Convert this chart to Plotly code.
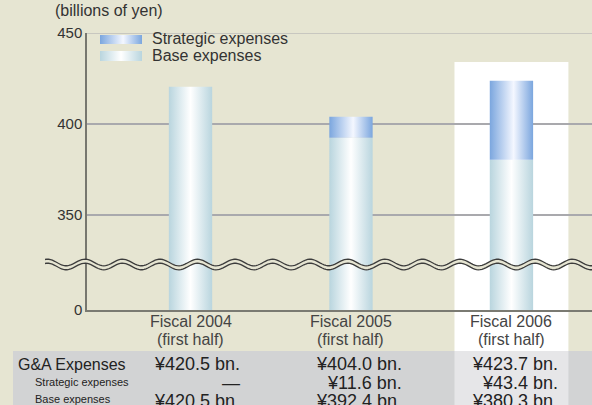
import numpy as np
import plotly.graph_objects as go

# 데이터
categories = ["Fiscal 2004", "Fiscal 2005", "Fiscal 2006"]
sub_labels = ["(first half)", "(first half)", "(first half)"]
strategic = [0.0, 11.6, 43.4]
base = [420.5, 392.4, 380.3]
total_text = ["¥420.5 bn.", "¥404.0 bn.", "¥423.7 bn."]
strategic_text = ["—", "¥11.6 bn.", "¥43.4 bn."]
base_text = ["¥420.5 bn.", "¥392.4 bn.", "¥380.3 bn."]
y_ticks = [350, 400, 450]
y_floor = 297.8  # 축이 끊긴 부분 아래의 "0"

# 화면 배치 (픽셀)
W, H = 592, 405
L, T, B = 87, 33, 95
PW, PH = W - L, H - T - B
X0, X1 = -0.645, 2.502
BAR_HALF = 0.135

BG = "#e6e5d2"
FONT = "Liberation Sans, Arial, Helvetica, sans-serif"


def xp(px):
    return (px - L) / PW


def yp(py):
    return (H - B - py) / PH


def x_data(px):
    return X0 + (px - L) / PW * (X1 - X0)


def y_data(py):
    return 450 - (py - T) / PH * (450 - y_floor)


def x_to_paper(x):
    return (x - X0) / (X1 - X0)


base_grad = dict(type="horizontal",
                 colorscale=[[0, "#b9d5de"], [0.5, "#ffffff"], [1, "#b9d5de"]])
strat_grad = dict(type="horizontal",
                  colorscale=[[0, "#7ba6de"], [0.55, "#f4f7ff"], [1, "#7ba6de"]])


def block(x0, x1, y0, y1, grad):
    return go.Scatter(x=[x0, x1, x1, x0, x0], y=[y0, y0, y1, y1, y0],
                      mode="none", fill="toself", fillgradient=grad,
                      showlegend=False, hoverinfo="skip")


fig = go.Figure()

# 막대 (기본 경비 + 전략 경비)
for i in range(len(categories)):
    fig.add_trace(block(i - BAR_HALF, i + BAR_HALF, y_floor, base[i], base_grad))
    if strategic[i] > 0:
        fig.add_trace(block(i - BAR_HALF, i + BAR_HALF, base[i],
                            base[i] + strategic[i], strat_grad))

# 범례 견본
fig.add_trace(block(x_data(100), x_data(142), y_data(44), y_data(35), strat_grad))
fig.add_trace(block(x_data(100), x_data(142), y_data(61), y_data(51), base_grad))

shapes = []
# 2006 강조 영역
hx0 = x_to_paper(2 - 0.355)
hx1 = x_to_paper(2 + 0.355)
shapes.append(dict(type="rect", xref="paper", yref="paper", x0=hx0, x1=hx1,
                   y0=yp(351), y1=yp(62), fillcolor="white", line_width=0,
                   layer="below"))
# 표 배경
shapes.append(dict(type="rect", xref="paper", yref="paper", x0=xp(13), x1=1,
                   y0=yp(H + 2), y1=yp(351), fillcolor="#d2d3d4", line_width=0,
                   layer="below"))
shapes.append(dict(type="rect", xref="paper", yref="paper", x0=hx0, x1=hx1,
                   y0=yp(H + 2), y1=yp(351), fillcolor="#e6e6e8", line_width=0,
                   layer="below"))
# 격자선
for v in y_ticks:
    shapes.append(dict(type="line", xref="paper", yref="y", x0=0, x1=1, y0=v, y1=v,
                       line=dict(color="#a9a9ad", width=1 if v == 450 else 2),
                       layer="below"))

# 물결 모양 (축 끊김 표시)
P, A, YC = 37.5, 3.3, 264.5
wx = np.linspace(45, W + 2, 300)
phase = 85 - P / 4
top = YC - 2 - A * np.sin(2 * np.pi * (wx - phase) / P)
bot = YC + 2 - A * np.sin(2 * np.pi * (wx - phase) / P)


def path_of(xs, ys):
    return "M" + " L".join(f"{xp(a):.5f},{yp(b):.5f}" for a, b in zip(xs, ys))


band = path_of(np.concatenate([wx, wx[::-1]]), np.concatenate([top - 0.3, bot[::-1] + 0.3])) + " Z"
shapes.append(dict(type="path", xref="paper", yref="paper", path=band,
                   fillcolor=BG, line_width=0, layer="above"))
for ys in (top, bot):
    shapes.append(dict(type="path", xref="paper", yref="paper", path=path_of(wx, ys),
                       line=dict(color="#3c3c3c", width=1.3), layer="above"))


def label(text, px, py, size, anchor="left", color="#333"):
    return dict(text=text, xref="paper", yref="paper", x=xp(px), y=yp(py),
                xanchor=anchor, yanchor="middle", showarrow=False,
                font=dict(size=size, color=color, family=FONT))


annotations = [
    label("(billions of yen)", 53, 11, 16),
    label("Strategic expenses", 150, 39, 16),
    label("Base expenses", 150, 55, 16),
]

# 분류 이름 (축 아래 두 줄)
for i in range(len(categories)):
    annotations.append(dict(text=categories[i], xref="x", yref="paper", x=i, y=yp(321),
                            xanchor="center", yanchor="middle", showarrow=False,
                            font=dict(size=16, color="#444", family=FONT)))
    annotations.append(dict(text=sub_labels[i], xref="x", yref="paper", x=i, y=yp(339),
                            xanchor="center", yanchor="middle", showarrow=False,
                            font=dict(size=16, color="#444", family=FONT)))

# 표
annotations.append(label("G&A Expenses", 16, 364, 16, color="#222"))
annotations.append(label("Strategic expenses", 33, 382, 11, color="#222"))
annotations.append(label("Base expenses", 33, 399, 11, color="#222"))
col_right = [242, 404, 560]
for i in range(len(categories)):
    for txt, py in ((total_text[i], 364), (strategic_text[i], 383), (base_text[i], 401)):
        annotations.append(label(txt, col_right[i], py, 18, anchor="right", color="#222"))

fig.update_layout(
    width=W, height=H, autosize=False,
    margin=dict(l=L, r=0, t=T, b=B),
    paper_bgcolor=BG, plot_bgcolor="rgba(0,0,0,0)",
    showlegend=False,
    shapes=shapes, annotations=annotations,
    font=dict(family=FONT, color="#333"),
)
fig.update_xaxes(range=[X0, X1], showticklabels=False,
                 showgrid=False, zeroline=False, showline=True,
                 linecolor="#7a7a72", linewidth=2, ticks="", fixedrange=True)
fig.update_yaxes(range=[y_floor, 450], tickvals=[y_floor] + y_ticks,
                 ticktext=["0"] + [str(v) for v in y_ticks],
                 showgrid=False, zeroline=False, showline=True,
                 linecolor="#77776f", linewidth=1.5, ticks="",
                 tickfont=dict(size=15, color="#333"), fixedrange=True)

fig.write_html("out.html", config={"displayModeBar": False},
               post_script="document.body.style.margin='0';"
                           "document.body.style.overflow='hidden';")
